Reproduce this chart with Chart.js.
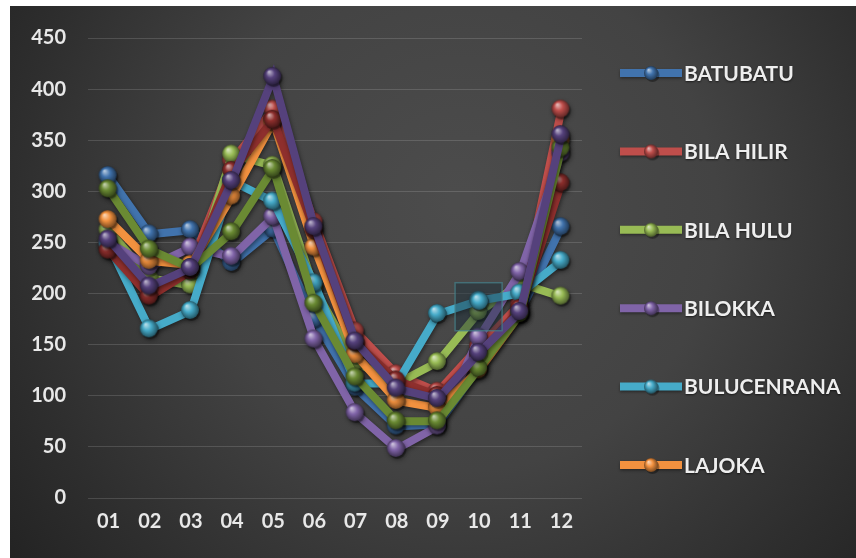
<!DOCTYPE html>
<html>
<head>
<meta charset="utf-8">
<script src="https://cdn.jsdelivr.net/npm/chart.js@4.4.1/dist/chart.umd.min.js"></script>
<style>
  html, body { margin: 0; padding: 0; background: #ffffff; }
  #wrap { width: 856px; height: 558px; }
</style>
</head>
<body>
<div id="wrap"><canvas id="c" width="856" height="558"></canvas></div>
<script>
// Monthly values per village (months 01-12)
const months = ['01', '02', '03', '04', '05', '06', '07', '08', '09', '10', '11', '12'];
const yTicks = [0, 50, 100, 150, 200, 250, 300, 350, 400, 450];

const batubatu    = [315, 258, 262, 230, 263, 175, 108, 70, 72, 128, 182, 265];
const bilaHilir   = [246, 200, 228, 330, 380, 270, 163, 121, 104, 148, 190, 380];
const bilaHulu    = [262, 215, 208, 336, 325, 205, 133, 112, 133, 182, 210, 197];
const bilokka     = [250, 226, 245, 236, 275, 155, 83, 48, 70, 157, 221, 337];
const bulucenrana = [248, 165, 183, 310, 290, 210, 112, 112, 180, 193, 200, 232];
const lajoka      = [272, 232, 228, 295, 368, 245, 140, 95, 88, 125, 180, 350];
const seri7       = [242, 197, 222, 320, 370, 262, 152, 115, 100, 140, 185, 308];
const seri8       = [302, 243, 225, 260, 322, 190, 118, 75, 75, 127, 180, 342];
const seri9       = [253, 207, 225, 310, 412, 265, 153, 107, 97, 142, 182, 355];

const seriesNames = ['BATUBATU', 'BILA HILIR', 'BILA HULU', 'BILOKKA', 'BULUCENRANA', 'LAJOKA', 'SERI 7', 'SERI 8', 'SERI 9'];
const seriesValues = [batubatu, bilaHilir, bilaHulu, bilokka, bulucenrana, lajoka, seri7, seri8, seri9];
const seriesColors = ['#4173ad', '#bf4e4b', '#98bb55', '#8064a8', '#46abc9', '#f2913f', '#8e2f2d', '#6a8a33', '#55417c'];
const legendCount = 6;

function hexToRgb(h) {
  const n = parseInt(h.slice(1), 16);
  return [(n >> 16) & 255, (n >> 8) & 255, n & 255];
}
function mix(h, target, t) {
  const c = hexToRgb(h);
  return 'rgb(' + c.map(v => Math.round(v + (target - v) * t)).join(',') + ')';
}

// glossy sphere used as the point marker
function sphere(color, r) {
  const s = r * 2 + 6;
  const cv = document.createElement('canvas');
  cv.width = s; cv.height = s;
  const g = cv.getContext('2d');
  const cx = s / 2 - 1, cy = s / 2 - 1;
  g.beginPath();
  g.arc(cx + 1.5, cy + 2, r, 0, Math.PI * 2);
  g.fillStyle = 'rgba(0,0,0,0.35)';
  g.fill();
  const grad = g.createRadialGradient(cx - r * 0.35, cy - r * 0.45, r * 0.05, cx, cy, r);
  grad.addColorStop(0, mix(color, 255, 0.6));
  grad.addColorStop(0.45, color);
  grad.addColorStop(1, mix(color, 0, 0.5));
  g.beginPath();
  g.arc(cx, cy, r, 0, Math.PI * 2);
  g.fillStyle = grad;
  g.fill();
  return cv;
}

const spheres = seriesColors.map(c => sphere(c, 9));
const legendSpheres = seriesColors.map(c => sphere(c, 7));

const datasets = seriesNames.map((name, i) => ({
  label: name,
  data: seriesValues[i],
  borderColor: seriesColors[i],
  backgroundColor: seriesColors[i],
  borderWidth: 8,
  pointStyle: spheres[i],
  pointRadius: 9,
  pointHoverRadius: 9,
  tension: 0,
  order: seriesNames.length - i
}));

const FONT = 'Lato, "Open Sans", sans-serif';

const backdrop = {
  id: 'backdrop',
  beforeDraw(chart) {
    const ctx = chart.ctx, W = chart.width, H = chart.height;
    ctx.save();
    ctx.fillStyle = '#ffffff';
    ctx.fillRect(0, 0, W, H);
    const g = ctx.createRadialGradient(460, 200, 10, 460, 230, 560);
    g.addColorStop(0, '#4c4c4c');
    g.addColorStop(0.45, '#434343');
    g.addColorStop(0.8, '#2e2e2e');
    g.addColorStop(1, '#232323');
    ctx.fillStyle = g;
    ctx.fillRect(10, 6, W - 10, H - 6);
    ctx.restore();
  }
};

const lineShadow = {
  id: 'lineShadow',
  beforeDatasetDraw(chart) {
    const ctx = chart.ctx;
    ctx.save();
    ctx.shadowColor = 'rgba(0,0,0,0.45)';
    ctx.shadowBlur = 4;
    ctx.shadowOffsetX = 1;
    ctx.shadowOffsetY = 2;
  },
  afterDatasetDraw(chart) {
    chart.ctx.restore();
  }
};

// selection box around one point of BULUCENRANA (month 10)
const selectedPoint = {
  id: 'selectedPoint',
  afterDatasetsDraw(chart) {
    const el = chart.getDatasetMeta(4).data[9];
    if (!el) return;
    const ctx = chart.ctx;
    ctx.save();
    ctx.fillStyle = 'rgba(25,45,55,0.45)';
    ctx.strokeStyle = 'rgba(70,130,140,0.7)';
    ctx.lineWidth = 1.5;
    ctx.fillRect(el.x - 24, el.y - 18, 47, 48);
    ctx.strokeRect(el.x - 24, el.y - 18, 47, 48);
    ctx.drawImage(spheres[4], el.x - spheres[4].width / 2 + 1, el.y - spheres[4].height / 2 + 1);
    ctx.restore();
  }
};

const sideLegend = {
  id: 'sideLegend',
  afterDraw(chart) {
    const ctx = chart.ctx;
    ctx.save();
    for (let i = 0; i < legendCount; i++) {
      const y = 73 + i * 78.4;
      const color = seriesColors[i];
      ctx.shadowColor = 'rgba(0,0,0,0.4)';
      ctx.shadowBlur = 3;
      ctx.shadowOffsetY = 1.5;
      ctx.strokeStyle = color;
      ctx.lineWidth = 8;
      ctx.lineCap = 'butt';
      ctx.beginPath();
      ctx.moveTo(620, y);
      ctx.lineTo(682, y);
      ctx.stroke();
      ctx.shadowColor = 'transparent';
      const sp = legendSpheres[i];
      ctx.drawImage(sp, 651 - sp.width / 2 + 1, y - sp.height / 2 + 1);
      ctx.shadowColor = 'rgba(0,0,0,0.6)';
      ctx.shadowBlur = 2;
      ctx.shadowOffsetY = 1;
      ctx.fillStyle = '#eeeeee';
      ctx.font = 'bold 21px ' + FONT;
      ctx.textBaseline = 'middle';
      ctx.textAlign = 'left';
      ctx.fillText(chart.data.datasets[i].label, 684, y + 1);
    }
    ctx.restore();
  }
};

new Chart(document.getElementById('c'), {
  type: 'line',
  data: { labels: months, datasets },
  options: {
    responsive: false,
    animation: false,
    events: [],
    layout: { padding: { left: 10, top: 38, right: 274, bottom: 0 } },
    plugins: {
      legend: { display: false },
      tooltip: { enabled: false }
    },
    scales: {
      x: {
        offset: true,
        grid: { display: false, drawTicks: false },
        border: { display: false },
        ticks: { color: '#e8e8e8', font: { family: FONT, size: 20, weight: 'bold' }, padding: 12 },
        afterFit(s) { s.height = 60; }
      },
      y: {
        min: 0,
        max: 450,
        afterBuildTicks(s) { s.ticks = yTicks.map(v => ({ value: v })); },
        grid: { color: 'rgba(255,255,255,0.14)', lineWidth: 1, drawTicks: false },
        border: { display: false },
        ticks: { color: '#e8e8e8', font: { family: FONT, size: 20, weight: 'bold' }, padding: 22 },
        afterFit(s) { s.width = 78; }
      }
    }
  },
  plugins: [backdrop, lineShadow, selectedPoint, sideLegend]
});
</script>
</body>
</html>
